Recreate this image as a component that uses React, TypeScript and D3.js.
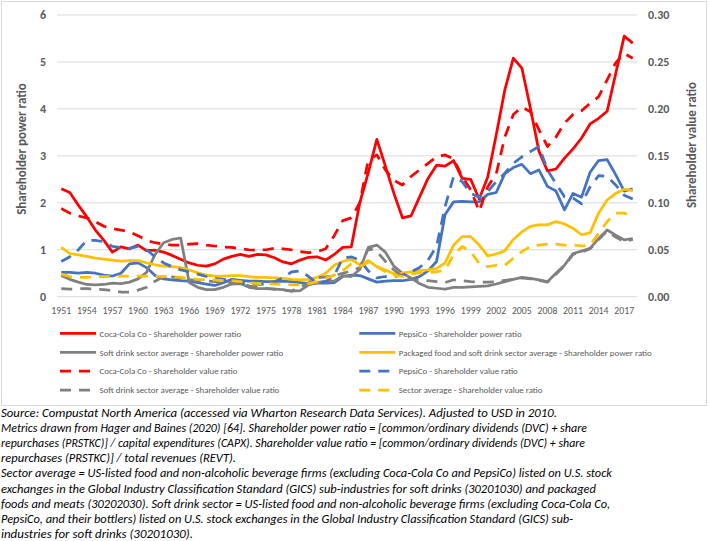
import React from "react";
import * as d3 from "d3";

const years = [1951,1952,1953,1954,1955,1956,1957,1958,1959,1960,1961,1962,1963,1964,1965,1966,1967,1968,1969,1970,1971,1972,1973,1974,1975,1976,1977,1978,1979,1980,1981,1982,1983,1984,1985,1986,1987,1988,1989,1990,1991,1992,1993,1994,1995,1996,1997,1998,1999,2000,2001,2002,2003,2004,2005,2006,2007,2008,2009,2010,2011,2012,2013,2014,2015,2016,2017,2018];

const xTickYears = [1951,1954,1957,1960,1963,1966,1969,1972,1975,1978,1981,1984,1987,1990,1993,1996,1999,2002,2005,2008,2011,2014,2017];
const leftTicks = [0,1,2,3,4,5,6];
const rightTicks = [0,0.05,0.1,0.15,0.2,0.25,0.3];

// Shareholder power ratio (left axis)
const cokePower = [2.30,2.22,1.95,1.70,1.42,1.20,0.95,1.06,1.02,1.10,0.98,0.99,0.95,0.88,0.80,0.72,0.67,0.65,0.70,0.80,0.86,0.90,0.86,0.90,0.89,0.83,0.74,0.70,0.78,0.84,0.85,0.78,0.90,1.05,1.06,2.00,2.65,3.35,2.78,2.20,1.68,1.72,2.12,2.52,2.80,2.78,2.90,2.52,2.50,2.08,2.55,3.45,4.40,5.08,4.87,4.02,3.10,2.68,2.72,2.95,3.15,3.38,3.68,3.80,3.95,4.75,5.55,5.40];
const pepsiPower = [0.52,0.52,0.50,0.52,0.50,0.46,0.44,0.50,0.70,0.72,0.62,0.45,0.38,0.36,0.34,0.33,0.30,0.27,0.24,0.30,0.37,0.35,0.33,0.33,0.32,0.32,0.33,0.32,0.30,0.28,0.29,0.29,0.30,0.43,0.46,0.45,0.38,0.31,0.33,0.34,0.34,0.37,0.43,0.55,0.75,1.75,2.02,2.03,2.02,2.02,2.18,2.22,2.62,2.75,2.82,2.62,2.70,2.35,2.25,1.85,2.20,2.12,2.65,2.90,2.92,2.60,2.25,2.30];
const softPower = [0.45,0.37,0.31,0.26,0.25,0.26,0.29,0.28,0.31,0.38,0.52,0.90,1.15,1.22,1.25,0.30,0.20,0.15,0.15,0.20,0.27,0.28,0.20,0.17,0.17,0.16,0.15,0.12,0.13,0.25,0.30,0.33,0.33,0.45,0.43,0.58,1.05,1.10,0.95,0.65,0.50,0.40,0.28,0.20,0.18,0.16,0.20,0.20,0.21,0.22,0.23,0.27,0.32,0.37,0.41,0.39,0.36,0.32,0.50,0.67,0.92,0.97,1.03,1.24,1.42,1.31,1.21,1.24];
const pkgPower = [1.05,0.92,0.89,0.86,0.82,0.80,0.78,0.76,0.77,0.77,0.72,0.68,0.65,0.64,0.62,0.57,0.51,0.46,0.44,0.44,0.45,0.45,0.43,0.41,0.41,0.40,0.39,0.37,0.36,0.37,0.41,0.50,0.67,0.75,0.80,0.68,0.77,0.64,0.57,0.49,0.50,0.53,0.56,0.57,0.60,0.72,1.10,1.28,1.28,1.10,0.87,0.91,0.98,1.22,1.38,1.50,1.53,1.53,1.60,1.55,1.46,1.32,1.36,1.78,2.06,2.20,2.29,2.26];

// Shareholder value ratio (right axis)
const cokeValue = [0.094,0.089,0.086,0.084,0.080,0.075,0.0725,0.071,0.069,0.065,0.060,0.0575,0.056,0.055,0.055,0.056,0.0565,0.055,0.054,0.053,0.0525,0.051,0.050,0.0495,0.050,0.0515,0.051,0.050,0.048,0.047,0.048,0.051,0.065,0.081,0.084,0.100,0.146,0.151,0.135,0.124,0.119,0.128,0.135,0.142,0.149,0.151,0.147,0.128,0.114,0.091,0.117,0.131,0.170,0.194,0.202,0.197,0.178,0.160,0.170,0.185,0.194,0.198,0.206,0.213,0.231,0.249,0.259,0.254];
const pepsiValue = [0.0375,0.0425,0.050,0.060,0.060,0.0585,0.0535,0.0525,0.0515,0.0535,0.050,0.0425,0.036,0.032,0.0285,0.0265,0.024,0.0215,0.0195,0.0185,0.0165,0.015,0.014,0.013,0.0135,0.016,0.020,0.0265,0.0275,0.0215,0.014,0.016,0.0225,0.041,0.0425,0.039,0.0275,0.020,0.0215,0.0215,0.023,0.0265,0.031,0.039,0.0535,0.096,0.128,0.1225,0.110,0.106,0.112,0.1225,0.1315,0.142,0.149,0.1545,0.160,0.135,0.1205,0.1065,0.105,0.099,0.117,0.129,0.128,0.119,0.108,0.104];
const softValue = [0.0085,0.008,0.0085,0.0085,0.008,0.0075,0.0065,0.005,0.005,0.007,0.010,0.0165,0.0215,0.021,0.020,0.018,0.0175,0.017,0.016,0.016,0.015,0.014,0.0115,0.010,0.009,0.008,0.007,0.006,0.010,0.015,0.020,0.021,0.0225,0.025,0.0275,0.031,0.0515,0.0485,0.0375,0.0285,0.0215,0.0185,0.018,0.017,0.016,0.015,0.018,0.017,0.016,0.0155,0.0155,0.016,0.0175,0.0185,0.020,0.019,0.0175,0.0155,0.024,0.033,0.045,0.0475,0.051,0.061,0.070,0.0635,0.0585,0.061];
const sectorValue = [0.024,0.0215,0.0205,0.0205,0.0215,0.0215,0.0215,0.022,0.022,0.022,0.022,0.022,0.0215,0.0215,0.0205,0.0195,0.0185,0.018,0.018,0.017,0.017,0.016,0.015,0.014,0.014,0.0135,0.0135,0.0125,0.0125,0.014,0.016,0.0195,0.023,0.0275,0.035,0.0325,0.0365,0.032,0.0265,0.023,0.0215,0.024,0.0255,0.0255,0.0265,0.0285,0.0445,0.0535,0.048,0.0355,0.032,0.0335,0.0335,0.041,0.048,0.0535,0.055,0.056,0.056,0.055,0.055,0.054,0.055,0.0675,0.080,0.089,0.089,0.085];

const seriesNames = [
  "Coca-Cola Co - Shareholder power ratio",
  "PepsiCo - Shareholder power ratio",
  "Soft drink sector average - Shareholder power ratio",
  "Packaged food and soft drink sector average - Shareholder power ratio",
  "Coca-Cola Co - Shareholder value ratio",
  "PepsiCo - Shareholder value ratio",
  "Soft drink sector average - Shareholder value ratio",
  "Sector average - Shareholder value ratio",
];

const footnotes = [
  "Source: Compustat North America (accessed via Wharton Research Data Services). Adjusted to USD in 2010.",
  "Metrics drawn from Hager and Baines (2020) [64]. Shareholder power ratio = [common/ordinary dividends (DVC) + share",
  "repurchases (PRSTKC)] / capital expenditures (CAPX). Shareholder value ratio = [common/ordinary dividends (DVC) + share",
  "repurchases (PRSTKC)] / total revenues (REVT).",
  "Sector average = US-listed food and non-alcoholic beverage firms (excluding Coca-Cola Co and PepsiCo) listed on U.S. stock",
  "exchanges in the Global Industry Classification Standard (GICS) sub-industries for soft drinks (30201030) and packaged",
  "foods and meats (30202030). Soft drink sector = US-listed food and non-alcoholic beverage firms (excluding Coca-Cola Co,",
  "PepsiCo, and their bottlers) listed on U.S. stock exchanges in the Global Industry Classification Standard (GICS) sub-",
  "industries for soft drinks (30201030).",
];
const footnoteWidths = [556, 586, 584, 235, 611, 595, 609, 572, 192];

const RED = "#FF0000";
const BLUE = "#4472C4";
const GRAY = "#808080";
const YELLOW = "#FFC000";
const TXT = "#595959";
const FONT = "Carlito, Calibri, Lato, sans-serif";

export default function App() {
  const W = 709, H = 541;
  const x = d3.scalePoint<number>().domain(years).range([57, 637]).padding(0.5);
  const yL = d3.scaleLinear().domain([0, 6]).range([296.7, 15]);
  const yR = d3.scaleLinear().domain([0, 0.3]).range([296.7, 15]);

  const lineL = d3.line<number>().x((_, i) => x(years[i]) as number).y((d) => yL(d));
  const lineR = d3.line<number>().x((_, i) => x(years[i]) as number).y((d) => yR(d));

  const series = [
    { data: cokePower, color: RED, dashed: false, line: lineL },
    { data: pepsiPower, color: BLUE, dashed: false, line: lineL },
    { data: softPower, color: GRAY, dashed: false, line: lineL },
    { data: pkgPower, color: YELLOW, dashed: false, line: lineL },
    { data: cokeValue, color: RED, dashed: true, line: lineR },
    { data: pepsiValue, color: BLUE, dashed: true, line: lineR },
    { data: softValue, color: GRAY, dashed: true, line: lineR },
    { data: sectorValue, color: YELLOW, dashed: true, line: lineR },
  ];

  const legendOrder = [0, 1, 2, 3, 4, 5, 6, 7];
  const rowY = [333.3, 352.3, 371.2, 390];

  return (
    <svg width={W} height={H} style={{ position: "absolute", left: 0, top: 0, background: "#fff" }} fontFamily={FONT}>
      <rect x={0} y={0} width={W} height={H} fill="#fff" />
      <rect x={1.5} y={1.5} width={705} height={404} fill="#fff" stroke="#D9D9D9" strokeWidth={1} />

      {leftTicks.map((t) => (
        <line key={"g" + t} x1={57} x2={637} y1={yL(t)} y2={yL(t)} stroke="#D9D9D9" strokeWidth={1} />
      ))}
      {leftTicks.map((t) => (
        <text key={"l" + t} x={46} y={yL(t) + 4} textAnchor="end" fontSize={12} fontWeight="bold" fill={TXT}>{t}</text>
      ))}
      {rightTicks.map((t) => (
        <text key={"r" + t} x={648} y={yR(t) + 4} textAnchor="start" fontSize={12} fontWeight="bold" fill={TXT}>{t.toFixed(2)}</text>
      ))}
      {xTickYears.map((yr) => (
        <text key={"x" + yr} x={x(yr)} y={313.5} textAnchor="middle" fontSize={9.8} fill={TXT}>{yr}</text>
      ))}
      <text transform="translate(26,149) rotate(-90)" textAnchor="middle" fontSize={13} fontWeight="bold" fill={TXT}>Shareholder power ratio</text>
      <text transform="translate(696,145) rotate(-90)" textAnchor="middle" fontSize={13} fontWeight="bold" fill={TXT}>Shareholder value ratio</text>

      {series.map((s, i) => (
        <path key={"s" + i} d={s.line(s.data) as string} fill="none" stroke={s.color} strokeWidth={2.75}
          strokeDasharray={s.dashed ? "11,8" : undefined} strokeLinejoin="round" />
      ))}

      {legendOrder.map((si, k) => {
        const col = k % 2;
        const row = Math.floor(k / 2);
        const x0 = col === 0 ? 60 : 359.3;
        const s = series[si];
        const yy = rowY[row];
        return (
          <g key={"lg" + k}>
            <line x1={x0} x2={x0 + 36} y1={yy} y2={yy} stroke={s.color} strokeWidth={2.75}
              strokeDasharray={s.dashed ? "11,8" : undefined} />
            <text x={x0 + 39.5} y={yy + 3.2} fontSize={8.9} fill={TXT}>{seriesNames[si]}</text>
          </g>
        );
      })}

      {footnotes.map((f, i) => (
        <text key={"f" + i} x={1} y={417 + i * 15.1} fontSize={12} fontStyle="italic" fill="#000"
          textLength={footnoteWidths[i]} lengthAdjust="spacingAndGlyphs">{f}</text>
      ))}
    </svg>
  );
}
